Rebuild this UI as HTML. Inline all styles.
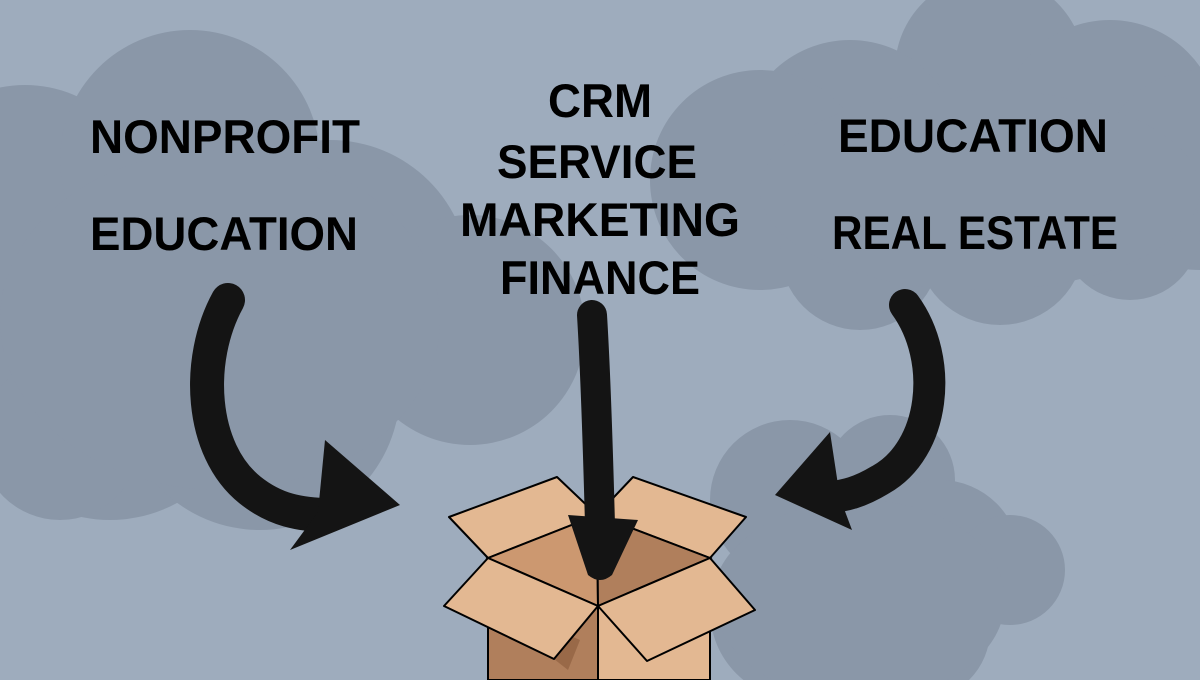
<!DOCTYPE html>
<html><head><meta charset="utf-8"><style>
html,body{margin:0;padding:0;background:#9eacbd;}
svg{display:block}
text{font-family:"Liberation Sans",sans-serif;font-weight:bold;fill:#000;}
</style></head><body>
<svg width="1200" height="680" viewBox="0 0 1200 680" xmlns="http://www.w3.org/2000/svg">
<rect width="1200" height="680" fill="#9eacbd"/>
<g fill="#8a97a8">
 <!-- left cloud -->
 <circle cx="25" cy="210" r="125"/>
 <circle cx="190" cy="160" r="130"/>
 <circle cx="330" cy="280" r="140"/>
 <circle cx="470" cy="330" r="115"/>
 <circle cx="110" cy="380" r="140"/>
 <circle cx="260" cy="390" r="140"/>
 <circle cx="60" cy="440" r="80"/>
 <ellipse cx="220" cy="320" rx="220" ry="170"/>
 <!-- right cloud -->
 <circle cx="990" cy="70" r="95"/>
 <circle cx="850" cy="150" r="110"/>
 <circle cx="760" cy="180" r="110"/>
 <circle cx="1110" cy="130" r="110"/>
 <circle cx="1200" cy="170" r="100"/>
 <circle cx="860" cy="250" r="80"/>
 <circle cx="1000" cy="240" r="85"/>
 <circle cx="1130" cy="230" r="70"/>
 <ellipse cx="980" cy="190" rx="220" ry="100"/>
 <!-- lower right cloud -->
 <circle cx="790" cy="500" r="80"/>
 <circle cx="890" cy="480" r="65"/>
 <circle cx="940" cy="560" r="80"/>
 <circle cx="1010" cy="570" r="55"/>
 <circle cx="800" cy="610" r="90"/>
 <circle cx="920" cy="630" r="70"/>
 <ellipse cx="860" cy="600" rx="145" ry="100"/>
</g>

<!-- text -->
<text x="90" y="153" font-size="47" textLength="270" lengthAdjust="spacingAndGlyphs">NONPROFIT</text>
<text x="90" y="250" font-size="47" textLength="268" lengthAdjust="spacingAndGlyphs">EDUCATION</text>
<text x="548" y="117" font-size="47" textLength="104" lengthAdjust="spacingAndGlyphs">CRM</text>
<text x="497" y="178" font-size="47" textLength="200" lengthAdjust="spacingAndGlyphs">SERVICE</text>
<text x="460" y="236" font-size="47" textLength="280" lengthAdjust="spacingAndGlyphs">MARKETING</text>
<text x="500" y="294" font-size="47" textLength="200" lengthAdjust="spacingAndGlyphs">FINANCE</text>
<text x="838" y="152" font-size="47" textLength="270" lengthAdjust="spacingAndGlyphs">EDUCATION</text>
<text x="832" y="249" font-size="47" textLength="286" lengthAdjust="spacingAndGlyphs">REAL ESTATE</text>

<!-- box body -->
<polygon points="488,558 598,606 598,680 488,680" fill="#b07f5c" stroke="#000" stroke-width="2"/>
<polygon points="598,606 710,558 710,680 598,680" fill="#e3b892" stroke="#000" stroke-width="2"/>
<polygon points="488,600 554,659 568,670 580,640" fill="#8a5a3a" opacity="0.6"/>
<!-- back flaps -->
<polygon points="449,517 557,477 597,515 488,558" fill="#e3b892" stroke="#000" stroke-width="2" stroke-linejoin="round"/>
<polygon points="633,477 746,517 710,558 597,515" fill="#e3b892" stroke="#000" stroke-width="2" stroke-linejoin="round"/>
<!-- interior -->
<polygon points="597,515 488,558 598,606" fill="#cc9870" stroke="#000" stroke-width="2"/>
<polygon points="597,515 710,558 598,606" fill="#b07f5c" stroke="#000" stroke-width="2"/>

<!-- arrows -->
<g fill="none" stroke="#141414" stroke-linecap="round">
 <path d="M228,300 C195,360 200,450 250,490 C275,510 300,515 330,515" stroke-width="34"/>
 <path d="M592,315 C596,380 598,450 600,525" stroke-width="30"/>
 <path d="M905,305 C945,360 935,450 880,480 C860,492 845,496 830,497" stroke-width="32"/>
</g>
<g fill="#141414">
 <polygon points="325,440 400,505 290,550 318,512"/>
 <path d="M568,515 L638,520 L612,575 Q600,585 588,575 Z"/>
 <polygon points="830,432 775,495 852,530 840,498"/>
</g>

<!-- front flaps -->
<polygon points="488,558 444,606 554,659 598,606" fill="#e3b892" stroke="#000" stroke-width="2" stroke-linejoin="round"/>
<polygon points="598,606 647,661 755,610 710,558" fill="#e3b892" stroke="#000" stroke-width="2" stroke-linejoin="round"/>
</svg>
</body></html>
